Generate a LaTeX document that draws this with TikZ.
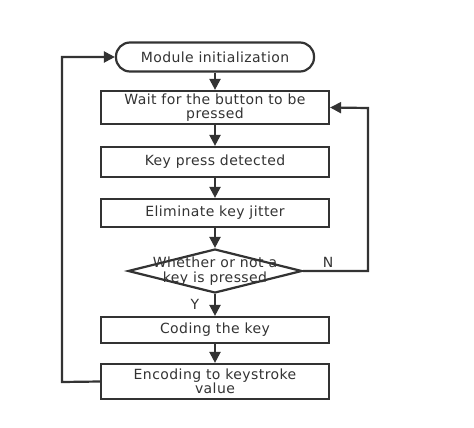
\documentclass[tikz,border=0pt]{standalone}
\usepackage{fontspec}
\setmainfont{DejaVu Sans}[LetterSpace=3]
\usetikzlibrary{shapes.geometric,arrows.meta}
\definecolor{ink}{HTML}{333333}
\begin{document}
\begin{tikzpicture}[x=1pt,y=-1pt,
  every node/.style={text=ink},
  proc/.style={draw=ink,line width=2.2pt,minimum width=228pt,inner sep=0pt,align=center,font=\fontsize{14}{13.5}\selectfont},
  term/.style={proc,rounded corners=14pt,minimum width=198pt,minimum height=29pt},
  dec/.style={draw=ink,line width=2.2pt,diamond,minimum width=174pt,minimum height=44pt,inner sep=0pt},
  arr/.style={draw=ink,line width=2.2pt,-{Triangle[length=11pt,width=11pt]}},
  lbl/.style={font=\fontsize{14}{14}\selectfont}]
\useasboundingbox (0,0) rectangle (474,428);
\node[term] (init) at (215,57) {Module initialization};
\node[proc,minimum height=33pt] (wait) at (215,107.5) {Wait for the button to be\\pressed};
\node[proc,minimum height=30pt] (det) at (215,162) {Key press detected};
\node[proc,minimum height=28pt] (elim) at (215,213) {Eliminate key jitter};
\node[dec,label={[align=center,font=\fontsize{14}{15}\selectfont,text=ink]center:Whether or not a\\key is pressed}] (dec) at (215,271) {};
\node[proc,minimum height=26pt] (code) at (215,330) {Coding the key};
\node[proc,minimum height=35pt] (enc) at (215,381.5) {Encoding to keystroke\\value};
\coordinate (lt) at (62,382);
\coordinate (lb) at (62,57);
\coordinate (rb) at (368,271);
\coordinate (rt) at (368,108);
\draw[arr] (init) -- (wait);
\draw[arr] (wait) -- (det);
\draw[arr] (det) -- (elim);
\draw[arr] (elim) -- (dec);
\draw[arr] (dec) -- (code);
\draw[arr] (code) -- (enc);
\draw[arr] (enc.west) -- (lt) -- (lb) -- (init.west);
\draw[arr] (dec.east) -- (rb) -- (rt) -- (wait.east);
\node[lbl] (y) at (195,304) {Y};
\node[lbl] (n) at (328,262) {N};
\end{tikzpicture}
\end{document}
